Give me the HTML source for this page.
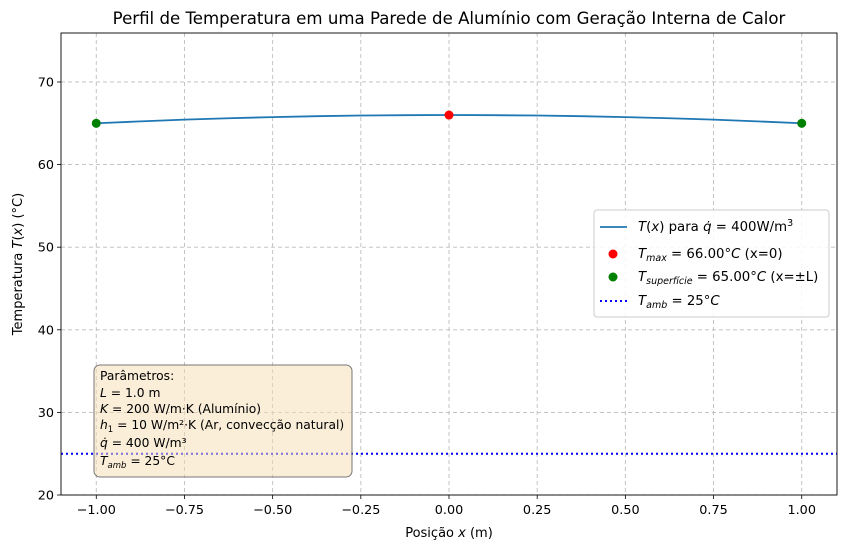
<!DOCTYPE html>
<html><head><meta charset="utf-8"><style>
body{margin:0;background:#fff}
svg{font-family:"DejaVu Sans","Liberation Sans",sans-serif}
</style></head><body>
<svg id="c" width="845" height="552" xmlns="http://www.w3.org/2000/svg"></svg>
<script>
const xVals=[-1,-0.875,-0.75,-0.625,-0.5,-0.375,-0.25,-0.125,0,0.125,0.25,0.375,0.5,0.625,0.75,0.875,1];
const tVals=[65,65.23,65.44,65.61,65.75,65.86,65.94,65.98,66,65.98,65.94,65.86,65.75,65.61,65.44,65.23,65];
const maxPoint=[0,66];
const surfPoints=[[-1,65],[1,65]];
const tAmb=25;
const xTicks=[-1,-0.75,-0.5,-0.25,0,0.25,0.5,0.75,1];
const xTickLabels=["−1.00","−0.75","−0.50","−0.25","0.00","0.25","0.50","0.75","1.00"];
const yTicks=[20,30,40,50,60,70];

const L=61,R=837,T=33,B=495,xmin=-1.1,xmax=1.1,ymin=20,ymax=75.93;
const sx=v=>L+(v-xmin)/(xmax-xmin)*(R-L);
const sy=v=>B-(v-ymin)/(ymax-ymin)*(B-T);
const svg=document.getElementById('c');
const NS='http://www.w3.org/2000/svg';
function mk(tag,attrs,txt){const e=document.createElementNS(NS,tag);for(const k in attrs)e.setAttribute(k,attrs[k]);if(txt!==undefined)e.textContent=txt;svg.appendChild(e);return e;}
let e;
xTicks.forEach((v,i)=>{
 e=mk('line',{x1:sx(v),x2:sx(v),y1:T,y2:B,stroke:'#bdbdbd','stroke-dasharray':'4,3','stroke-width':0.9});
 
 e=mk('line',{x1:sx(v),x2:sx(v),y1:B,y2:B+4,stroke:'#000','stroke-width':0.8});
 
 e=mk('text',{x:sx(v),y:B+19,'font-size':12.8,'text-anchor':'middle'},xTickLabels[i]);
 
});
yTicks.forEach(v=>{
 e=mk('line',{x1:L,x2:R,y1:sy(v),y2:sy(v),stroke:'#bdbdbd','stroke-dasharray':'4,3','stroke-width':0.9});
 
 e=mk('line',{x1:L-4,x2:L,y1:sy(v),y2:sy(v),stroke:'#000','stroke-width':0.8});
 
 e=mk('text',{x:L-7,y:sy(v)+4.5,'font-size':12.8,'text-anchor':'end'},String(v));
 
});
e=mk('line',{x1:L,x2:R,y1:sy(tAmb),y2:sy(tAmb),stroke:'#0000ff','stroke-width':2,'stroke-dasharray':'2,3'});

e=mk('path',{d:xVals.map((x,i)=>(i?'L':'M')+sx(x)+','+sy(tVals[i])).join(''),fill:'none',stroke:'#1f77b4','stroke-width':1.8});

e=mk('circle',{cx:sx(maxPoint[0]),cy:sy(maxPoint[1]),r:4.5,fill:'#ff0000'});

surfPoints.forEach(p=>{
 e=mk('circle',{cx:sx(p[0]),cy:sy(p[1]),r:4.5,fill:'#008000'});
 
});
e=mk('rect',{x:L,y:T,width:R-L,height:B-T,fill:'none',stroke:'#000','stroke-width':0.9});

</script>
<svg style="position:absolute;left:0;top:0" width="845" height="552" xmlns="http://www.w3.org/2000/svg" font-family="DejaVu Sans, Liberation Sans, sans-serif">
<text x="449" y="24" font-size="16.6" text-anchor="middle">Perfil de Temperatura em uma Parede de Alumínio com Geração Interna de Calor</text>
<text x="449" y="537" font-size="13" text-anchor="middle">Posição <tspan font-style="italic">x</tspan> (m)</text>
<text transform="translate(22,264) rotate(-90)" font-size="13" text-anchor="middle">Temperatura <tspan font-style="italic">T</tspan>(<tspan font-style="italic">x</tspan>) (°C)</text>
<g>
<rect x="594" y="210" width="235" height="107" rx="3" fill="#fff" fill-opacity="0.85" stroke="#ccc"/>
<line x1="600" y1="227" x2="627" y2="227" stroke="#1f77b4" stroke-width="1.8"/>
<text x="638" y="231" font-size="13.3"><tspan font-style="italic">T</tspan>(<tspan font-style="italic">x</tspan>) para <tspan font-style="italic">q̇</tspan> = 400W/m<tspan dy="-5" font-size="9.5">3</tspan></text>
<circle cx="613" cy="254" r="4.5" fill="#ff0000"/>
<text x="638" y="258" font-size="13.3"><tspan font-style="italic">T</tspan><tspan font-style="italic" font-size="9.5" dy="3">max</tspan><tspan dy="-3"> = 66.00°</tspan><tspan font-style="italic">C</tspan> (x=0)</text>
<circle cx="613" cy="277" r="4.5" fill="#008000"/>
<text x="638" y="281" font-size="13.3"><tspan font-style="italic">T</tspan><tspan font-style="italic" font-size="9.5" dy="3">superfície</tspan><tspan dy="-3"> = 65.00°</tspan><tspan font-style="italic">C</tspan> (x=±L)</text>
<line x1="600" y1="301" x2="627" y2="301" stroke="#0000ff" stroke-width="2" stroke-dasharray="2,3"/>
<text x="638" y="305" font-size="13.3"><tspan font-style="italic">T</tspan><tspan font-style="italic" font-size="9.5" dy="3">amb</tspan><tspan dy="-3"> = 25°</tspan><tspan font-style="italic">C</tspan></text>
</g>
<g font-size="12.3">
<rect x="94" y="365" width="258" height="112" rx="6" fill="#f5deb3" fill-opacity="0.5" stroke="#777"/>
<text x="100" y="380">Parâmetros:</text>
<text x="100" y="397"><tspan font-style="italic">L</tspan> = 1.0 m</text>
<text x="100" y="413"><tspan font-style="italic">K</tspan> = 200 W/m·K (Alumínio)</text>
<text x="100" y="429"><tspan font-style="italic">h</tspan><tspan font-size="8.5" dy="3">1</tspan><tspan dy="-3"> = 10 W/m²·K (Ar, convecção natural)</tspan></text>
<text x="100" y="447"><tspan font-style="italic">q̇</tspan> = 400 W/m³</text>
<text x="100" y="465"><tspan font-style="italic">T</tspan><tspan font-style="italic" font-size="8.5" dy="3">amb</tspan><tspan dy="-3"> = 25°C</tspan></text>
</g>
</svg>
</body></html>
